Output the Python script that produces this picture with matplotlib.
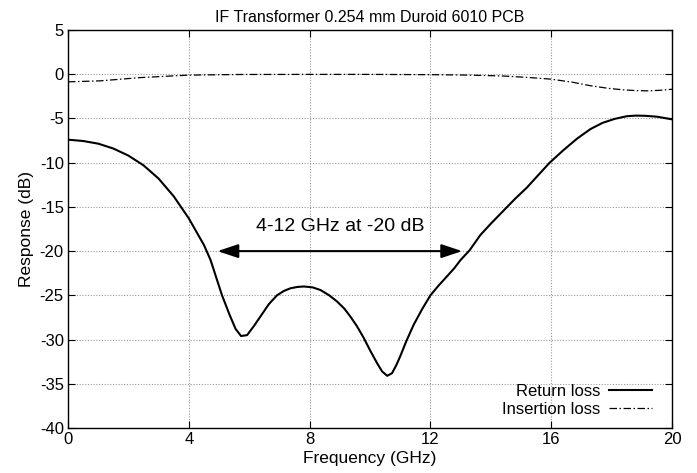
import matplotlib
matplotlib.use("Agg")
import matplotlib.pyplot as plt

plt.rcParams['font.family'] = ['Liberation Sans', 'DejaVu Sans']
plt.rcParams['axes.unicode_minus'] = False

# Return loss (dB) vs frequency (GHz)
rl_freq = [0.0, 0.5, 1.0, 1.5, 2.0, 2.5, 3.0, 3.5, 4.0, 4.5, 4.72, 5.1, 5.35, 5.55,
           5.73, 5.93, 6.15, 6.37, 6.65, 6.92, 7.15, 7.37, 7.6, 7.81, 8.1, 8.36, 8.65,
           8.91, 9.15, 9.35, 9.57, 9.79, 10.0, 10.24, 10.4, 10.57, 10.73, 10.87, 11.0,
           11.2, 11.45, 11.72, 12.0, 12.27, 12.55, 12.8, 13.0, 13.3, 13.65, 14.0, 14.4,
           14.8, 15.2, 15.6, 15.95, 16.4, 16.85, 17.3, 17.7, 18.1, 18.5, 18.8, 19.1,
           19.5, 20.0]
rl_db = [-7.4, -7.55, -7.85, -8.4, -9.2, -10.3, -11.8, -13.8, -16.3, -19.3, -21.0,
         -25.0, -27.2, -28.8, -29.6, -29.5, -28.5, -27.4, -26.0, -25.0, -24.5, -24.2,
         -24.05, -24.0, -24.1, -24.4, -25.0, -25.7, -26.5, -27.4, -28.5, -29.8, -31.2,
         -32.7, -33.6, -34.1, -33.8, -32.9, -31.9, -30.2, -28.3, -26.6, -25.0, -23.9,
         -22.85, -21.9, -21.0, -19.9, -18.2, -16.9, -15.5, -14.1, -12.8, -11.3, -10.0,
         -8.6, -7.3, -6.2, -5.5, -5.05, -4.75, -4.68, -4.7, -4.8, -5.1]

# Insertion loss (dB) vs frequency (GHz)
il_freq = [0.0, 1.07, 2.4, 4.0, 5.7, 8.0, 10.0, 12.0, 13.3, 14.4, 15.3, 16.0, 16.7,
           17.3, 17.9, 18.4, 18.8, 19.2, 19.6, 20.0]
il_db = [-0.86, -0.75, -0.38, -0.1, -0.03, -0.02, -0.02, -0.05, -0.1, -0.2, -0.38,
         -0.56, -0.9, -1.3, -1.6, -1.77, -1.85, -1.88, -1.82, -1.7]

title = "IF Transformer 0.254 mm Duroid 6010 PCB"
xlabel = "Frequency (GHz)"
ylabel = "Response (dB)"
xticks = [0, 4, 8, 12, 16, 20]
yticks = [5, 0, -5, -10, -15, -20, -25, -30, -35, -40]
arrow_start, arrow_end, arrow_level = 4.95, 13.05, -20
annot_text = "4-12 GHz at -20 dB"
annot_pos = (9.0, -17.2)

fig = plt.figure(figsize=(6.97, 4.73), dpi=100)
ax = fig.add_axes([68/697, 1-428/473, (672-68)/697, (428-30)/473])

ax.plot(rl_freq, rl_db, color='black', lw=1.5, label='Return loss')
ax.plot(il_freq, il_db, color='black', lw=0.9, linestyle=(0, (6, 2, 1.2, 2)),
        label='Insertion loss')

ax.annotate('', xy=(arrow_start, arrow_level), xytext=(arrow_end, arrow_level),
            arrowprops=dict(arrowstyle='<|-|>,head_length=0.9,head_width=0.3',
                            color='black', lw=1.5,
                            mutation_scale=14, shrinkA=0, shrinkB=0))
ax.text(annot_pos[0], annot_pos[1], annot_text, ha='center', va='center', fontsize=14)

ax.set_xlim(0, 20)
ax.set_ylim(-40, 5)
ax.set_xticks(xticks)
ax.set_yticks(yticks)
ax.tick_params(direction='in', top=True, right=True, length=5, width=0.8,
               labelsize=12, pad=3)
ax.grid(True, color='#999999', linestyle=(0, (1, 1.5)), lw=0.8)
for s in ax.spines.values():
    s.set_linewidth(1.0)

ax.set_title(title, fontsize=11.5, pad=6)
ax.set_xlabel(xlabel, fontsize=12.5, labelpad=3)
ax.set_ylabel(ylabel, fontsize=12.5, labelpad=4)

leg = ax.legend(loc='lower right', markerfirst=False, frameon=False, fontsize=12,
                handlelength=2.6, handletextpad=0.5, labelspacing=0.2,
                bbox_to_anchor=(0.985, 0.0), borderaxespad=0.25)

fig.savefig('out.png', dpi=100)
